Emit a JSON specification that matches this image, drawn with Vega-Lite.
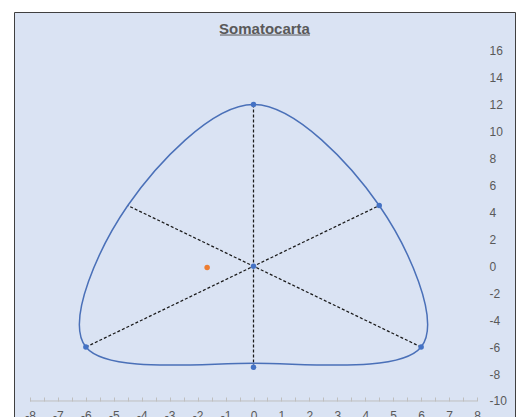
{
  "$schema": "https://vega.github.io/schema/vega-lite/v6.json",
  "width": 501,
  "height": 420,
  "autosize": {"type": "pad"},
  "padding": {"left": 14, "top": 12, "right": 11, "bottom": 0},
  "background": "#ffffff",
  "title": {"text": "Somatocarta", "anchor": "middle", "frame": "group", "offset": -37, "baseline": "alphabetic", "font": "Liberation Sans", "fontSize": 15, "fontWeight": "bold", "color": "#595959"},
  "config": {
    "view": {"fill": "#DAE3F3", "stroke": "#404040", "strokeWidth": 1},
    "axis": {"grid": false, "title": null, "labelFont": "Liberation Sans", "labelFontSize": 12, "labelColor": "#595959", "labelOverlap": false, "labelBound": false, "labelFlush": false, "tickCount": 100}
  },
  "datasets": {
    "uno": [{"k": 1}],
    "curve": [
      {"i": 0, "x": 0, "y": 12},
      {"i": 1, "x": 4.5, "y": 4.5},
      {"i": 2, "x": 6, "y": -6},
      {"i": 3, "x": 0, "y": -7.2},
      {"i": 4, "x": -6, "y": -6},
      {"i": 5, "x": -4.5, "y": 4.5}
    ],
    "ejes": [
      {"x": 0, "y": 12, "x2": 0, "y2": -7.5},
      {"x": -6, "y": -6, "x2": 4.5, "y2": 4.5},
      {"x": 6, "y": -6, "x2": -4.5, "y2": 4.5}
    ],
    "puntos": [
      {"x": 0, "y": 12, "s": "ref"},
      {"x": 4.5, "y": 4.5, "s": "ref"},
      {"x": 6, "y": -6, "s": "ref"},
      {"x": -6, "y": -6, "s": "ref"},
      {"x": 0, "y": -7.5, "s": "ref"},
      {"x": 0, "y": 0, "s": "ref"},
      {"x": -1.66, "y": -0.1, "s": "sujeto"}
    ]
  },
  "layer": [
    {
      "data": {"name": "uno"},
      "mark": {"type": "rule", "color": "#BFBFBF", "strokeWidth": 1},
      "encoding": {
        "x": {"datum": -8, "type": "quantitative", "scale": {"domain": [-8.5727, 9.36], "nice": false, "zero": false},
          "axis": {"values": [-8,-7.5,-7,-6.5,-6,-5.5,-5,-4.5,-4,-3.5,-3,-2.5,-2,-1.5,-1,-0.5,0,0.5,1,1.5,2,2.5,3,3.5,4,4.5,5,5.5,6,6.5,7,7.5,8],
            "labelExpr": "datum.value % 1 === 0 ? '' + datum.value : ''", "tickCount": 100, "offset": -31, "domain": false, "ticks": true, "tickSize": -4, "tickColor": "#BFBFBF", "labelPadding": 13, "labelOverlap": false, "title": null}},
        "x2": {"datum": 8},
        "y": {"datum": -10, "type": "quantitative", "scale": {"domain": [-12.3, 18.858], "nice": false, "zero": false},
          "axis": {"orient": "right", "values": [-10,-8,-6,-4,-2,0,2,4,6,8,10,12,14,16], "labelExpr": "'' + datum.value", "tickCount": 100, "offset": -26, "domain": false, "ticks": false, "labelPadding": 0, "labelAlign": "left", "labelOverlap": false, "title": null}}
      }
    },
    {
      "data": {"name": "uno"},
      "mark": {"type": "rule", "color": "#595959", "strokeWidth": 1},
      "encoding": {
        "x": {"datum": -1.2, "type": "quantitative", "scale": {"domain": [-8.5727, 9.36], "nice": false, "zero": false}},
        "x2": {"datum": 2.02},
        "y": {"datum": 17.15, "type": "quantitative", "scale": {"domain": [-12.3, 18.858], "nice": false, "zero": false}}
      }
    },
    {
      "data": {"name": "ejes"},
      "mark": {"type": "rule", "color": "#1a1a1a", "strokeWidth": 1.25, "strokeDash": [3, 2]},
      "encoding": {
        "x": {"field": "x", "type": "quantitative", "scale": {"domain": [-8.5727, 9.36], "nice": false, "zero": false}},
        "y": {"field": "y", "type": "quantitative", "scale": {"domain": [-12.3, 18.858], "nice": false, "zero": false}},
        "x2": {"field": "x2"},
        "y2": {"field": "y2"}
      }
    },
    {
      "data": {"name": "curve"},
      "mark": {"type": "line", "interpolate": "cardinal-closed", "color": "#4A70B8", "strokeWidth": 1.5},
      "encoding": {
        "x": {"field": "x", "type": "quantitative", "scale": {"domain": [-8.5727, 9.36], "nice": false, "zero": false}},
        "y": {"field": "y", "type": "quantitative", "scale": {"domain": [-12.3, 18.858], "nice": false, "zero": false}},
        "order": {"field": "i", "type": "quantitative"}
      }
    },
    {
      "data": {"name": "puntos"},
      "mark": {"type": "point", "filled": true, "opacity": 1, "size": 30},
      "encoding": {
        "x": {"field": "x", "type": "quantitative", "scale": {"domain": [-8.5727, 9.36], "nice": false, "zero": false}},
        "y": {"field": "y", "type": "quantitative", "scale": {"domain": [-12.3, 18.858], "nice": false, "zero": false}},
        "color": {"field": "s", "type": "nominal", "scale": {"domain": ["ref", "sujeto"], "range": ["#4472C4", "#ED7D31"]}, "legend": null}
      }
    }
  ]
}
